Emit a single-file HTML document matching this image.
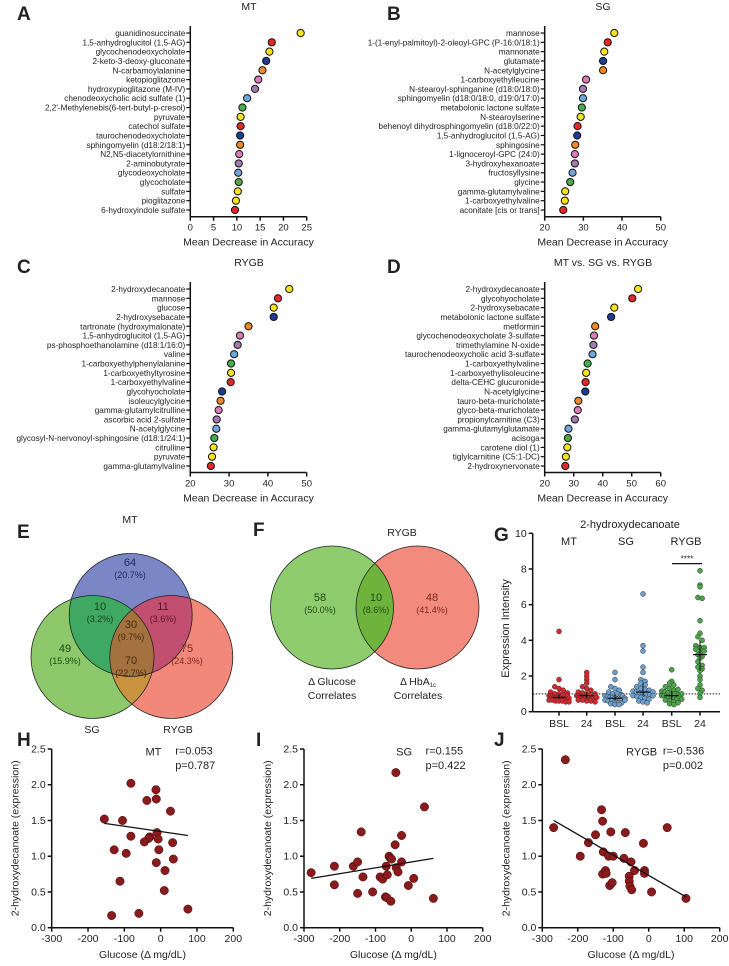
<!DOCTYPE html>
<html><head><meta charset="utf-8">
<style>
html,body{margin:0;padding:0;background:#fff;}
svg{display:block;font-family:"Liberation Sans",Arial,sans-serif;}
.lbl{font-size:8.2px;fill:#222;}
.tick{font-size:9.5px;fill:#222;}
.ttl{font-size:10.5px;fill:#222;}
.let{font-size:19px;font-weight:bold;fill:#222;}
</style></head>
<body>
<svg id="fig" width="729" height="966" viewBox="0 0 729 966" xmlns="http://www.w3.org/2000/svg">
<defs>
<clipPath id="cMT"><circle cx="130.7" cy="615" r="61.5"/></clipPath>
<clipPath id="cSG"><circle cx="92.5" cy="657" r="61.5"/></clipPath>
<clipPath id="cRY"><circle cx="171.3" cy="657" r="61.5"/></clipPath>
<clipPath id="cFG"><circle cx="332" cy="607.5" r="61.5"/></clipPath>
</defs>
<g id="layer"></g>
</svg>
<script>
// ---------- data ----------
const dotColors = ["#f5e31e","#e2282b","#f5e31e","#1f3c92","#ef8a26","#d97db5","#a47bb0","#6ea7db","#4aaa4f","#f5e31e","#e2282b","#1f3c92","#ef8a26","#d97db5","#a47bb0","#6ea7db","#4aaa4f","#f5e31e","#f5e31e","#e2282b"];
const labelsA = ["guanidinosuccinate","1,5-anhydroglucitol (1,5-AG)","glycochenodeoxycholate","2-keto-3-deoxy-gluconate","N-carbamoylalanine","ketopioglitazone","hydroxypioglitazone (M-IV)","chenodeoxycholic acid sulfate (1)","2,2'-Methylenebis(6-tert-butyl-p-cresol)","pyruvate","catechol sulfate","taurochenodeoxycholate","sphingomyelin (d18:2/18:1)","N2,N5-diacetylornithine","2-aminobutyrate","glycodeoxycholate","glycocholate","sulfate","pioglitazone","6-hydroxyindole sulfate"];
const valuesA = [23.7,17.5,17,16.3,15.5,14.6,13.9,12.2,11.2,10.8,10.8,10.7,10.7,10.5,10.4,10.3,10.4,10.2,9.8,9.6];
const ticksA = [0,5,10,15,20,25];
const labelsB = ["mannose","1-(1-enyl-palmitoyl)-2-oleoyl-GPC (P-16:0/18:1)","mannonate","glutamate","N-acetylglycine","1-carboxyethylleucine","N-stearoyl-sphinganine (d18:0/18:0)","sphingomyelin (d18:0/18:0, d19:0/17:0)","metabolonic lactone sulfate","N-stearoylserine","behenoyl dihydrosphingomyelin (d18:0/22:0)","1,5-anhydroglucitol (1,5-AG)","sphingosine","1-lignoceroyl-GPC (24:0)","3-hydroxyhexanoate","fructosyllysine","glycine","gamma-glutamylvaline","1-carboxyethylvaline","aconitate [cis or trans]"];
const valuesB = [38,36.3,35.4,35.1,35.1,30.7,29.9,29.9,29.6,29.3,28.5,28.4,27.9,27.8,27.8,27.2,26.6,25.3,25.2,24.8];
const ticksB = [20,30,40,50];
const labelsC = ["2-hydroxydecanoate","mannose","glucose","2-hydroxysebacate","tartronate (hydroxymalonate)","1,5-anhydroglucitol (1,5-AG)","ps-phosphoethanolamine (d18:1/16:0)","valine","1-carboxyethylphenylalanine","1-carboxyethyltyrosine","1-carboxyethylvaline","glycohyocholate","isoleucylglycine","gamma-glutamylcitrulline","ascorbic acid 2-sulfate","N-acetylglycine","glycosyl-N-nervonoyl-sphingosine (d18:1/24:1)","citrulline","pyruvate","gamma-glutamylvaline"];
const valuesC = [45.5,42.6,41.5,41.5,35,32.8,32.2,31.3,30.5,30.5,30.4,28.2,27.8,27.3,26.8,26.7,26.2,26,25.6,25.3];
const ticksC = [20,30,40,50];
const labelsD = ["2-hydroxydecanoate","glycohyocholate","2-hydroxysebacate","metabolonic lactone sulfate","metformin","glycochenodeoxycholate 3-sulfate","trimethylamine N-oxide","taurochenodeoxycholic acid 3-sulfate","1-carboxyethylvaline","1-carboxyethylisoleucine","delta-CEHC glucuronide","N-acetylglycine","tauro-beta-muricholate","glyco-beta-muricholate","propionylcarnitine (C3)","gamma-glutamylglutamate","acisoga","carotene diol (1)","tiglylcarnitine (C5:1-DC)","2-hydroxynervonate"];
const valuesD = [52.2,50.2,44,42.9,37.4,37,36.8,36.5,34.8,34.3,34.1,34,31.6,31.4,30.4,28.2,28,27.8,27.3,27.1];
const ticksD = [20,30,40,50,60];

const gCategories = ["BSL","24","BSL","24","BSL","24"];
const gMT_BSL = [4.5,1.8,1.4,1.3,1.2,1.1,1.0,1.0,0.95,0.9,0.9,0.85,0.8,0.8,0.8,0.75,0.75,0.7,0.7,0.7,0.65,0.65,0.6,0.6,0.6,0.55,0.55,1.05,0.9,0.75];
const gMT_24 = [2.2,2.0,1.8,1.6,1.4,1.3,1.2,1.1,1.05,1.0,0.95,0.9,0.9,0.85,0.85,0.8,0.8,0.75,0.75,0.7,0.7,0.65,0.65,0.6,0.6,0.55,0.9,1.0,0.8];
const gSG_BSL = [2.2,1.8,1.4,1.3,1.2,1.1,1.0,1.0,0.95,0.9,0.85,0.8,0.8,0.75,0.7,0.7,0.65,0.6,0.6,0.55,0.5,0.5,0.45,0.4,0.4,0.9,0.75,0.65];
const gSG_24 = [6.6,3.7,3.4,2.5,2.2,1.8,1.7,1.6,1.5,1.4,1.3,1.25,1.2,1.15,1.1,1.05,1.0,1.0,0.95,0.9,0.85,0.8,0.75,0.7,0.6,0.55,0.5,1.1,0.9];
const gRY_BSL = [2.35,1.7,1.6,1.5,1.4,1.3,1.2,1.15,1.1,1.05,1.0,1.0,0.95,0.9,0.9,0.85,0.8,0.8,0.75,0.7,0.65,0.6,0.55,0.5,0.45,0.4,1.0,0.85,0.7,1.25];
const gRY_24 = [7.9,7.1,7.0,6.4,6.35,5.1,4.4,4.2,4.0,3.7,3.6,3.6,3.5,3.3,3.2,3.1,3.0,2.8,2.6,2.5,2.4,2.3,2.0,1.8,1.5,1.3,1.2,1.0,0.8,3.4];
const gTicks = [0,2,4,6,8,10];

const hX = [-155,-105,-82,-82,-128,-95,-112,-135,-60,-38,-13,-12,-30,-33,-45,-10,-7,-5,-12,27,33,35,12,10,75];
const hY = [1.52,1.5,2.02,1.28,1.09,1.04,0.65,0.17,0.2,1.78,1.93,1.8,1.27,1.25,1.2,1.33,1.24,1.09,0.91,1.63,1.19,0.96,0.8,0.52,0.26];
const hFit = [[-155,1.46],[75,1.29]];
const iX = [-280,-215,-215,-162,-150,-150,-140,-135,-108,-87,-80,-72,-68,-70,-67,-62,-58,-57,-55,-45,-43,-42,-37,-27,-27,-8,7,37,62];
const iY = [0.77,0.86,0.6,0.86,0.92,0.48,1.34,0.71,0.5,0.71,0.68,0.43,0.42,0.86,0.74,1.0,0.97,0.37,0.96,1.16,2.17,0.84,0.78,1.29,0.92,0.59,0.69,1.69,0.41];
const iFit = [[-280,0.69],[62,0.97]];
const jX = [-268,-235,-193,-170,-150,-133,-130,-128,-130,-122,-120,-113,-110,-107,-103,-100,-70,-66,-55,-55,-53,-50,-48,-40,-15,-12,-12,8,52,105];
const jY = [1.4,2.35,1.0,1.19,1.3,1.65,1.49,1.06,0.75,0.8,0.76,1.0,0.59,1.34,0.63,1.0,0.97,1.33,0.72,0.65,0.58,0.92,0.53,0.8,1.18,0.8,0.76,0.5,1.4,0.41];
const jFit = [[-268,1.5],[105,0.43]];
const scXTicks = [-300,-200,-100,0,100,200];
const scYTicks = [0,0.5,1.0,1.5,2.0,2.5];

// ---------- helpers ----------
const NS="http://www.w3.org/2000/svg";
const root=document.getElementById('layer');
function mk(tag,attrs,parent){const e=document.createElementNS(NS,tag);for(const k in attrs)e.setAttribute(k,attrs[k]);(parent||root).appendChild(e);return e;}
function txt(x,y,s,cls,anchor,parent,extra){const e=mk('text',Object.assign({x:x,y:y,class:cls,'text-anchor':anchor||'middle'},extra||{}),parent);e.textContent=s;return e;}
function lin(x1,y1,x2,y2,parent,w,dash){return mk('line',{x1,y1,x2,y2,stroke:'#111','stroke-width':w||1.5,'stroke-dasharray':dash||'none'},parent);}

// ---------- panel letters ----------
[["A",17,20],["B",387,20],["C",17,273],["D",387,273],["E",17,538],["F",253,536],["G",494,541],["H",17,746],["I",256,746],["J",494,746]].forEach(p=>{
  const t=txt(p[1],p[2],p[0],'let','start');
  
  
});

// ---------- dot plots ----------
function dotPlot(name,title,labels,values,ticks,x0,x1,yTop,yBot,axisY,titleX,titleY){
  const g=mk('g',{});
  
  
  const vmin=ticks[0],vmax=ticks[ticks.length-1];
  const sx=v=>x0+(v-vmin)/(vmax-vmin)*(x1-x0);
  const step=(yBot-yTop)/(labels.length-1);
  const t=txt(titleX,titleY,title,'ttl','middle',g);
  
  
  lin(x0,yTop-7,x0,axisY,g);
  lin(x0,axisY,x1,axisY,g);
  ticks.forEach(v=>{lin(sx(v),axisY,sx(v),axisY+4,g);
    const tl=txt(sx(v),axisY+14,String(v),'tick','middle',g);
    
    });
  const xt=txt((x0+x1)/2,axisY+29,'Mean Decrease in Accuracy','ttl','middle',g);
  
  
  labels.forEach((l,i)=>{const y=yTop+i*step;
    lin(x0-4,y,x0,y,g,1.2);
    const lt=txt(x0-5,y+3,l,'lbl','end',g);
    
    
    const c=mk('circle',{cx:sx(values[i]),cy:y,r:3.6,fill:dotColors[i%dotColors.length],stroke:'#111','stroke-width':1},g);
    
    
  });
}
dotPlot('panel-a-mt','MT',labelsA,valuesA,ticksA,190.3,306.7,33,210,216.7,249,10);
dotPlot('panel-b-sg','SG',labelsB,valuesB,ticksB,544.7,660.7,33,210,216.7,603,10);
dotPlot('panel-c-rygb','RYGB',labelsC,valuesC,ticksC,190.3,306.7,289,466,472.5,249,266);
dotPlot('panel-d-all','MT vs. SG vs. RYGB',labelsD,valuesD,ticksD,544.7,660.7,289,466,472.5,603,266);

// ---------- Venn E ----------
(function(){
  const g=mk('g',{});
  
  
  const MT=[130.7,615],SG=[92.5,657],RY=[171.3,657],r=61.5;
  mk('circle',{cx:MT[0],cy:MT[1],r:r,fill:'#7b86c6'},g);
  mk('circle',{cx:SG[0],cy:SG[1],r:r,fill:'#8dc96a'},g);
  mk('circle',{cx:RY[0],cy:RY[1],r:r,fill:'#f1887a'},g);
  const g1=mk('g',{'clip-path':'url(#cMT)'},g);
  mk('circle',{cx:SG[0],cy:SG[1],r:r,fill:'#3fa862'},g1);
  mk('circle',{cx:RY[0],cy:RY[1],r:r,fill:'#c24f70'},g1);
  const g2=mk('g',{'clip-path':'url(#cSG)'},g);
  mk('circle',{cx:RY[0],cy:RY[1],r:r,fill:'#c9933f'},g2);
  const g3=mk('g',{'clip-path':'url(#cSG)'},g);
  const g4=mk('g',{'clip-path':'url(#cMT)'},g3);
  mk('circle',{cx:RY[0],cy:RY[1],r:r,fill:'#a4723f'},g4);
  [MT,SG,RY].forEach(c=>mk('circle',{cx:c[0],cy:c[1],r:r,fill:'none',stroke:'#222','stroke-width':0.8},g));
  const T=[["64","(20.7%)",130,566,"#1e2a66"],["10","(3.2%)",100,610,"#12451f"],["11","(3.6%)",163,610,"#5a1628"],["30","(9.7%)",131,628,"#4a2a10"],["49","(15.9%)",65,652,"#1f4a14"],["70","(22.7%)",131,664,"#4a2a10"],["75","(24.3%)",187,652,"#7a2a22"]];
  T.forEach(t=>{const a=txt(t[2],t[3],t[0],'ttl','middle',g,{fill:t[4],style:'font-size:11px;fill:'+t[4]});
    
    
    const b=txt(t[2],t[3]+12,t[1],'lbl','middle',g,{style:'font-size:9px;fill:'+t[4]});
    
    });
  [["MT",130,523],["SG",92,733],["RYGB",178,733]].forEach(t=>{const a=txt(t[1],t[2],t[0],'ttl','middle',g);
    
    });
})();

// ---------- Venn F ----------
(function(){
  const g=mk('g',{});
  
  
  const A=[332,607.5],B=[417.5,607.5],r=61.5;
  mk('circle',{cx:A[0],cy:A[1],r:r,fill:'#8fcc6e'},g);
  mk('circle',{cx:B[0],cy:B[1],r:r,fill:'#f28b7d'},g);
  const gi=mk('g',{'clip-path':'url(#cFG)'},g);
  mk('circle',{cx:B[0],cy:B[1],r:r,fill:'#6eb43c'},gi);
  [A,B].forEach(c=>mk('circle',{cx:c[0],cy:c[1],r:r,fill:'none',stroke:'#222','stroke-width':0.8},g));
  [["58","(50.0%)",320,"#1f4a14"],["10","(8.6%)",376,"#1f4a14"],["48","(41.4%)",432,"#7a2a22"]].forEach(t=>{
    const a=txt(t[2],601,t[0],'ttl','middle',g,{style:'font-size:11px;fill:'+t[3]});
    
    
    const b=txt(t[2],613,t[1],'lbl','middle',g,{style:'font-size:9px;fill:'+t[3]});
    
    });
  const tt=txt(402,536,'RYGB','ttl','middle',g);
  
  
  const l1=txt(332,685,'Δ Glucose','ttl','middle',g);
  
  
  txt(332,699,'Correlates','ttl','middle',g);
  const l2=mk('text',{x:418,y:685,class:'ttl','text-anchor':'middle'},g);
  l2.innerHTML='Δ HbA<tspan style="font-size:6px" dy="2">1c</tspan>';
  
  
  txt(418,699,'Correlates','ttl','middle',g);
})();

// ---------- G beeswarm ----------
(function(){
  const g=mk('g',{});
  
  
  const xAx=532.7,y0=711.7,y1=533.3,xEnd=720;
  const sy=v=>y0-(v-gTicks[0])/(gTicks[gTicks.length-1]-gTicks[0])*(y0-y1);
  const catX=[559,586.7,615,643,671.7,700];
  const sets=[gMT_BSL,gMT_24,gSG_BSL,gSG_24,gRY_BSL,gRY_24];
  const cols=["#d9262b","#d9262b","#6b9fcf","#6b9fcf","#49a546","#49a546"];
  lin(xAx,y1,xAx,y0,g);lin(xAx,y0,xEnd,y0,g);
  gTicks.forEach(v=>{lin(xAx-4,sy(v),xAx,sy(v),g);
    const t=txt(xAx-6,sy(v)+3.5,String(v),'tick','end',g,{style:'font-size:10.5px'});
    
    });
  const yt=txt(0,0,'Expression Intensity','ttl','middle',g,{transform:'translate(509,'+((y0+y1)/2+6)+') rotate(-90)',style:'font-size:11px'});
  
  
  const dl=lin(xAx,sy(1),xEnd,sy(1),g,1,'1.5,1.5');
  
  
  const r=2.5,bin=4.2,maxHalf=10;
  sets.forEach((vals,k)=>{
    lin(catX[k],y0,catX[k],y0+4,g);
    const tl=txt(catX[k],727,gCategories[k],'tick','middle',g,{style:'font-size:10.5px'});
    
    
    const bins={};
    vals.forEach(v=>{const b=Math.round(sy(v)/bin);(bins[b]=bins[b]||[]).push(v);});
    Object.keys(bins).forEach(b=>{
      const arr=bins[b],n=arr.length;
      const sp=n>1?Math.min(4.2,2*maxHalf/(n-1)):0;
      arr.forEach((v,i)=>{
        const off=(i-(n-1)/2)*sp;
        const c=mk('circle',{cx:catX[k]+off,cy:sy(v),r:r,fill:cols[k],stroke:'#333','stroke-width':0.5},g);
        
        
      });
    });
    const s=[...vals].sort((a,b)=>a-b),q=p=>s[Math.floor(p*(s.length-1))];
    lin(catX[k]-7,sy(q(0.5)),catX[k]+7,sy(q(0.5)),g,1.2);
    lin(catX[k],sy(q(0.25)),catX[k],sy(q(0.75)),g,1);
  });
  const tt=txt(630,528,'2-hydroxydecanoate','ttl','middle',g,{style:'font-size:11px'});
  
  
  [["MT",569],["SG",626],["RYGB",686]].forEach(t=>{const a=txt(t[1],545,t[0],'ttl','middle',g,{style:'font-size:11px'});
    
    });
  const sb=lin(672,sy(8.3),702,sy(8.3),g,1.2);
  
  
  const st=txt(687,sy(8.3)-2,'****','lbl','middle',g);
  
  
})();

// ---------- scatter H, I, J ----------
function scatter(name,title,rTxt,pTxt,xs,ys,fit,x0,x1){
  const g=mk('g',{});
  
  
  const y0=927.7,y1=749;
  const xmin=scXTicks[0],xmax=scXTicks[scXTicks.length-1],ymin=scYTicks[0],ymax=scYTicks[scYTicks.length-1];
  const sx=v=>x0+(v-xmin)/(xmax-xmin)*(x1-x0);
  const sy=v=>y0-(v-ymin)/(ymax-ymin)*(y0-y1);
  lin(x0,y1,x0,y0,g);lin(x0,y0,x1,y0,g);
  scYTicks.forEach(v=>{lin(x0-4,sy(v),x0,sy(v),g);
    const t=txt(x0-6,sy(v)+3.5,v.toFixed(1),'tick','end',g,{style:'font-size:10.5px'});
    
    });
  scXTicks.forEach(v=>{lin(sx(v),y0,sx(v),y0+4,g);
    const t=txt(sx(v),942,String(v),'tick','middle',g,{style:'font-size:10.5px'});
    
    });
  const xt=txt((x0+x1)/2,958,'Glucose (Δ mg/dL)','ttl','middle',g);
  
  
  const yt=txt(0,0,'2-hydroxydecanoate (expression)','ttl','middle',g,{transform:'translate('+(x0-33)+','+((y0+y1)/2)+') rotate(-90)'});
  
  
  xs.forEach((v,i)=>{const c=mk('circle',{cx:sx(v),cy:sy(ys[i]),r:4.2,fill:'#8b1a1c',stroke:'#3a0a0a','stroke-width':0.5},g);
    
    });
  const fl=lin(sx(fit[0][0]),sy(fit[0][1]),sx(fit[1][0]),sy(fit[1][1]),g,1.3);
  
  
  const tt=txt(sx(-20),sy(2.41),title,'ttl','middle',g,{style:'font-size:11px'});
  
  
  const rt=txt(sx(40),sy(2.42),rTxt,'ttl','start',g,{style:'font-size:11px'});
  
  
  const pt=txt(sx(40),sy(2.22),pTxt,'ttl','start',g,{style:'font-size:11px'});
  
  
}
scatter('panel-h-mt','MT','r=0.053','p=0.787',hX,hY,hFit,51.7,233.3);
scatter('panel-i-sg','SG','r=0.155','p=0.422',iX,iY,iFit,304,482.7);
scatter('panel-j-rygb','RYGB','r=-0.536','p=0.002',jX,jY,jFit,542.3,719.7);
</script>
</body></html>
